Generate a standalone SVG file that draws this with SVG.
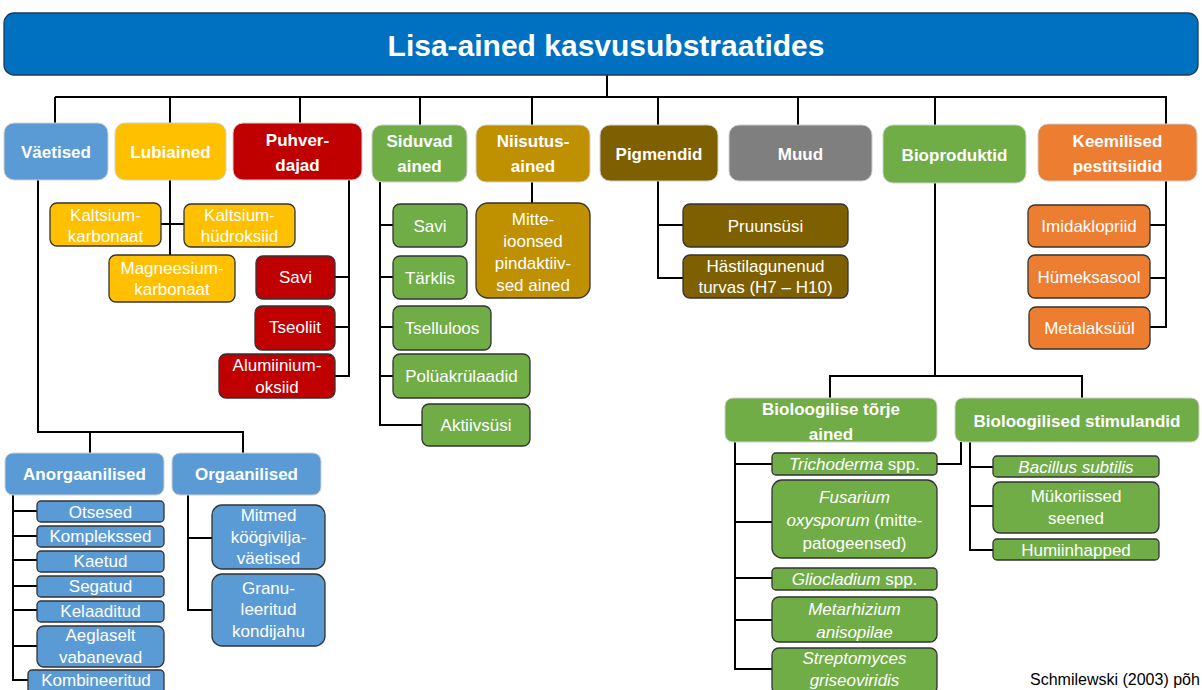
<svg xmlns="http://www.w3.org/2000/svg" width="1202" height="690" viewBox="0 0 1202 690">
<style>
.c{stroke:#000;stroke-width:2;fill:none}
text{font-family:"Liberation Sans",Arial,sans-serif;fill:#fff;text-anchor:middle;font-size:17px}
.b{font-weight:bold}
.i{font-style:italic}
.top{stroke:#d0d0d0;stroke-width:1}
.ch{stroke:#333;stroke-width:1.3}
.blue{fill:#5B9BD5}.yel{fill:#FFC000}.red{fill:#C00000}.grn{fill:#70AD47}.gold{fill:#BF9000}.brn{fill:#7F6000}.gry{fill:#7F7F7F}.org{fill:#ED7D31}
</style>
<rect width="1202" height="690" fill="#fff"/>
<g id="connectors">
<path class="c" d="M607,75V97M55,97H1167M55,97V123M170,97V123M300,97V123M420,97V125M532,97V125M658,97V125M798,97V125M935,97V125M1166,97V124"/>
<path class="c" d="M38,180V432H243V453M90,432V453"/>
<path class="c" d="M13,495V680H28M13,511H37M13,536H37M13,560H37M13,586H37M13,610H37M13,646H37"/>
<path class="c" d="M188,495V610H212M188,538H212"/>
<path class="c" d="M170,180V255M161,224H184"/>
<path class="c" d="M349,180V376H335M335,277H349M335,327H349"/>
<path class="c" d="M380,182V425H422M380,225H393M380,277H393M380,327H393M380,376H393"/>
<path class="c" d="M532,182V203"/>
<path class="c" d="M658,181V278H683M658,225H683"/>
<path class="c" d="M1166,181V327H1150M1150,225H1166M1150,278H1166"/>
<path class="c" d="M935,183V376M830,398V376H1082V398"/>
<path class="c" d="M735,442V669H772M735,464H772M735,522H772M735,578H772M735,620H772"/>
<path class="c" d="M937,464H961V442"/>
<path class="c" d="M970,442V550H993M970,467H993M970,506H993"/>
</g>
<g id="title"><rect x="4" y="13" width="1194" height="62" rx="10" fill="#0070C0" stroke="#1f3b5a" stroke-width="1.3"/><text x="606" y="56" class="b" style="font-size:30px">Lisa-ained kasvusubstraatides</text></g>
<g id="vaetised"><rect class="top blue" x="4" y="123" width="104" height="57" rx="10"/><text class="b" x="56" y="158">Väetised</text></g>
<g id="lubiained"><rect class="top yel" x="115" y="123" width="111" height="57" rx="10"/><text class="b" x="170.5" y="158">Lubiained</text></g>
<g id="puhverdajad"><rect class="top red" x="233" y="123" width="129" height="57" rx="10"/><text class="b" x="297.5" y="146">Puhver-</text><text class="b" x="297.5" y="171">dajad</text></g>
<g id="siduvad"><rect class="top grn" x="372" y="125" width="95" height="57" rx="10"/><text class="b" x="419.5" y="147">Siduvad</text><text class="b" x="419.5" y="172">ained</text></g>
<g id="niisutus"><rect class="top gold" x="476" y="125" width="114" height="57" rx="10"/><text class="b" x="533" y="147">Niisutus-</text><text class="b" x="533" y="172">ained</text></g>
<g id="pigmendid"><rect class="top brn" x="600" y="125" width="118" height="56" rx="10"/><text class="b" x="659" y="160">Pigmendid</text></g>
<g id="muud"><rect class="top gry" x="729" y="125" width="143" height="56" rx="10"/><text class="b" x="800.5" y="160">Muud</text></g>
<g id="bioproduktid"><rect class="top grn" x="883" y="125" width="143" height="58" rx="10"/><text class="b" x="954.5" y="161">Bioproduktid</text></g>
<g id="keemilised"><rect class="top org" x="1038" y="124" width="159" height="57" rx="10"/><text class="b" x="1117.5" y="147">Keemilised</text><text class="b" x="1117.5" y="172">pestitsiidid</text></g>

<g id="kaltsiumkarbonaat"><rect class="ch yel" x="50" y="203" width="111" height="43" rx="7"/><text x="105.5" y="220.5">Kaltsium-</text><text x="105.5" y="241.5">karbonaat</text></g>
<g id="kaltsiumhudroksiid"><rect class="ch yel" x="184" y="204" width="111" height="43" rx="7"/><text x="239.5" y="221">Kaltsium-</text><text x="239.5" y="242">hüdroksiid</text></g>
<g id="magneesium"><rect class="ch yel" x="109" y="255" width="126" height="47" rx="7"/><text x="172" y="274">Magneesium-</text><text x="172" y="295">karbonaat</text></g>

<g id="p-savi"><rect class="ch red" x="256" y="256" width="79" height="43" rx="7"/><text x="295.5" y="283">Savi</text></g>
<g id="tseoliit"><rect class="ch red" x="255" y="306" width="80" height="44" rx="7"/><text x="295" y="333">Tseoliit</text></g>
<g id="alumiinium"><rect class="ch red" x="219" y="354" width="116" height="44" rx="7"/><text x="277" y="371">Alumiinium-</text><text x="277" y="393">oksiid</text></g>

<g id="s-savi"><rect class="ch grn" x="393" y="204" width="74" height="43" rx="7"/><text x="430" y="231.5">Savi</text></g>
<g id="tarklis"><rect class="ch grn" x="393" y="256" width="74" height="43" rx="7"/><text x="430" y="283.5">Tärklis</text></g>
<g id="tselluloos"><rect class="ch grn" x="393" y="306" width="98" height="44" rx="7"/><text x="442" y="334">Tselluloos</text></g>
<g id="poluakrulaadid"><rect class="ch grn" x="393" y="354" width="137" height="44" rx="7"/><text x="461.5" y="382">Polüakrülaadid</text></g>
<g id="aktiivsusi"><rect class="ch grn" x="422" y="404" width="108" height="42" rx="7"/><text x="476" y="431">Aktiivsüsi</text></g>

<g id="mitteioonsed"><rect class="ch gold" x="476" y="203" width="114" height="95" rx="12"/><text x="533" y="225">Mitte-</text><text x="533" y="247">ioonsed</text><text x="533" y="269">pindaktiiv-</text><text x="533" y="291">sed ained</text></g>

<g id="pruunsusi"><rect class="ch brn" x="683" y="204" width="165" height="43" rx="7"/><text x="765.5" y="231.5">Pruunsüsi</text></g>
<g id="turvas"><rect class="ch brn" x="683" y="255" width="165" height="43" rx="7"/><text x="765.5" y="272">Hästilagunenud</text><text x="765.5" y="293">turvas (H7 – H10)</text></g>

<g id="imidaklopriid"><rect class="ch org" x="1028" y="205" width="122" height="42" rx="7"/><text x="1089" y="232">Imidaklopriid</text></g>
<g id="humeksasool"><rect class="ch org" x="1028" y="255" width="122" height="43" rx="7"/><text x="1089" y="282.5">Hümeksasool</text></g>
<g id="metalaksuul"><rect class="ch org" x="1029" y="307" width="121" height="42" rx="7"/><text x="1089.5" y="334">Metalaksüül</text></g>

<g id="anorgaanilised"><rect class="top blue" x="5" y="453" width="159" height="42" rx="8"/><text class="b" x="84.5" y="480">Anorgaanilised</text></g>
<g id="orgaanilised"><rect class="top blue" x="172" y="453" width="149" height="42" rx="8"/><text class="b" x="246.5" y="480">Orgaanilised</text></g>
<g id="otsesed"><rect class="ch blue" x="37" y="501" width="127" height="21" rx="4"/><text x="100.5" y="517.5">Otsesed</text></g>
<g id="komplekssed"><rect class="ch blue" x="37" y="526" width="127" height="21" rx="4"/><text x="100.5" y="542">Komplekssed</text></g>
<g id="kaetud"><rect class="ch blue" x="37" y="551" width="127" height="21" rx="4"/><text x="100.5" y="567">Kaetud</text></g>
<g id="segatud"><rect class="ch blue" x="37" y="576" width="127" height="21" rx="4"/><text x="100.5" y="592">Segatud</text></g>
<g id="kelaaditud"><rect class="ch blue" x="37" y="601" width="127" height="21" rx="4"/><text x="100.5" y="617">Kelaaditud</text></g>
<g id="aeglaselt"><rect class="ch blue" x="37" y="626" width="127" height="41" rx="7"/><text x="100.5" y="641">Aeglaselt</text><text x="100.5" y="663">vabanevad</text></g>
<g id="kombineeritud"><rect class="ch blue" x="28" y="670" width="136" height="24" rx="4"/><text x="96" y="686">Kombineeritud</text></g>
<g id="mitmed"><rect class="ch blue" x="212" y="505" width="113" height="64" rx="10"/><text x="268.5" y="521">Mitmed</text><text x="268.5" y="543">köögivilja-</text><text x="268.5" y="564">väetised</text></g>
<g id="granuleeritud"><rect class="ch blue" x="212" y="574" width="113" height="72" rx="10"/><text x="268.5" y="594">Granu-</text><text x="268.5" y="615">leeritud</text><text x="268.5" y="637">kondijahu</text></g>

<g id="torje"><rect class="top grn" x="725" y="398" width="212" height="44" rx="8"/><text class="b" x="831" y="415">Bioloogilise tõrje</text><text class="b" x="831" y="440">ained</text></g>
<g id="stimulandid"><rect class="top grn" x="955" y="398" width="244" height="44" rx="8"/><text class="b" x="1077" y="427">Bioloogilised stimulandid</text></g>
<g id="trichoderma"><rect class="ch grn" x="772" y="453" width="165" height="22" rx="4"/><text x="854.5" y="470"><tspan class="i">Trichoderma</tspan> spp.</text></g>
<g id="fusarium"><rect class="ch grn" x="772" y="480" width="165" height="78" rx="10"/><text x="854.5" y="503" class="i">Fusarium</text><text x="854.5" y="526"><tspan class="i">oxysporum</tspan> (mitte-</text><text x="854.5" y="549">patogeensed)</text></g>
<g id="gliocladium"><rect class="ch grn" x="772" y="568" width="165" height="22" rx="4"/><text x="854.5" y="585"><tspan class="i">Gliocladium</tspan> spp.</text></g>
<g id="metarhizium"><rect class="ch grn" x="772" y="597" width="165" height="45" rx="7"/><text x="854.5" y="615" class="i">Metarhizium</text><text x="854.5" y="638" class="i">anisopilae</text></g>
<g id="streptomyces"><rect class="ch grn" x="772" y="648" width="165" height="46" rx="7"/><text x="854.5" y="664" class="i">Streptomyces</text><text x="854.5" y="686" class="i">griseoviridis</text></g>
<g id="bacillus"><rect class="ch grn" x="993" y="456" width="166" height="21" rx="4"/><text x="1076" y="472.5" class="i">Bacillus subtilis</text></g>
<g id="mukoriissed"><rect class="ch grn" x="993" y="482" width="166" height="51" rx="7"/><text x="1076" y="502">Mükoriissed</text><text x="1076" y="524">seened</text></g>
<g id="humiinhapped"><rect class="ch grn" x="993" y="539" width="166" height="21" rx="4"/><text x="1076" y="555.5">Humiinhapped</text></g>

<text x="1030" y="685" style="fill:#000;text-anchor:start;font-size:16px">Schmilewski (2003) põh</text>
</svg>
